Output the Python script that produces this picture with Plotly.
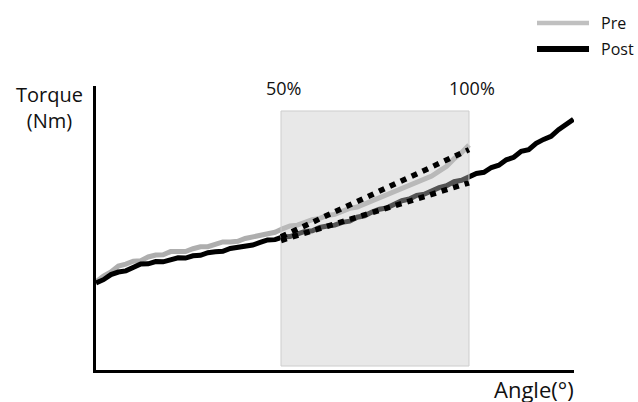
import plotly.graph_objects as go

# ---- data (angle in % of Pre range of motion, torque in arbitrary Nm units) ----
pre_angle = [0, 2, 4, 6, 8, 10, 12, 14, 16, 18, 20, 22, 24, 26, 28, 30, 32, 34, 36, 38,
             40, 42, 44, 46, 48, 50, 52, 54, 56, 58, 60, 62, 64, 66, 68, 70, 72, 74, 76, 78,
             80, 82, 84, 86, 88, 90, 92, 94, 96, 98, 100]
pre_torque = [31.0, 33.1, 34.5, 36.6, 37.3, 38.3, 38.5, 39.8, 40.5, 40.6, 41.7, 41.7, 41.7, 42.7, 43.4, 43.4, 44.3, 45.1, 45.1, 45.3,
              46.3, 46.9, 47.1, 48.1, 48.5, 49.7, 50.7, 51.0, 52.0, 52.9, 53.4, 54.4, 54.8, 55.9, 56.9, 57.4, 58.5, 59.3, 60.7, 61.7,
              62.7, 64.1, 64.8, 66.1, 67.4, 68.3, 70.0, 71.7, 74.4, 76.5, 79.2]

post_angle = [0, 2, 4, 6, 8, 10, 12, 14, 16, 18, 20, 22, 24, 26, 28, 30, 32, 34, 36, 38,
              40, 42, 44, 46, 48, 50, 52, 54, 56, 58, 60, 62, 64, 66, 68, 70, 72, 74, 76, 78,
              80, 82, 84, 86, 88, 90, 92, 94, 96, 98, 100, 102, 104, 106, 108, 110, 112, 114,
              116, 118, 120, 122, 124, 126, 128]
post_torque = [30.6, 31.8, 33.6, 34.5, 34.9, 36.3, 37.3, 37.4, 38.2, 38.1, 38.9, 39.5, 39.4, 40.2, 40.4, 41.3, 41.6, 41.8, 42.8, 43.2,
               44.0, 44.0, 44.9, 45.8, 45.9, 46.8, 47.0, 48.1, 48.8, 49.0, 50.2, 50.7, 51.0, 52.0, 52.4, 53.8, 54.3, 55.6, 56.6, 57.1,
               58.5, 59.6, 60.2, 61.5, 61.9, 63.1, 64.2, 64.9, 66.3, 66.8, 68.1, 69.2, 69.6, 71.3, 72.1, 74.0, 74.9, 77.0,
               77.6, 79.8, 81.2, 82.3, 84.6, 86.2, 88.3]

# analysed window: 50% .. 100% of Pre range of motion
window_angle = [49.6, 100]
window_torque = [1.4, 91.2]
window_labels = ["50%", "100%"]

# linear fits across the window
pre_fit_angle = [49.6, 100]
pre_fit_torque = [46.9, 77.6]
post_fit_angle = [49.6, 100]
post_fit_torque = [45.6, 65.9]

legend_names = ["Pre", "Post"]
legend_colors = ["#c0c0c0", "#000000"]

x_title = "Angle(°)"
y_title = "Torque<br>(Nm)"

FONT = "Open Sans, Lato, sans-serif"

fig = go.Figure()

fig.add_trace(go.Scatter(x=pre_angle, y=pre_torque, mode="lines",
                         line=dict(color="#aeaeae", width=5), name="Pre", showlegend=False))
fig.add_trace(go.Scatter(x=post_angle, y=post_torque, mode="lines",
                         line=dict(color="#000000", width=5), name="Post", showlegend=False))

# shaded window drawn over the curves (semi-transparent)
wx0, wx1 = window_angle
wy0, wy1 = window_torque
fig.add_trace(go.Scatter(x=[wx0, wx1, wx1, wx0, wx0], y=[wy0, wy0, wy1, wy1, wy0],
                         mode="lines", fill="toself", fillcolor="rgba(200,200,200,0.42)",
                         line=dict(color="#cdcdcd", width=1), hoverinfo="skip", showlegend=False))

fig.add_trace(go.Scatter(x=pre_fit_angle, y=pre_fit_torque, mode="lines",
                         line=dict(color="#000000", width=5.5, dash="6px,6px"), showlegend=False))
fig.add_trace(go.Scatter(x=post_fit_angle, y=post_fit_torque, mode="lines",
                         line=dict(color="#000000", width=5.5, dash="6px,6px"), showlegend=False))

annotations = []
for xv, lab in zip(window_angle, window_labels):
    annotations.append(dict(x=xv + 0.8, y=99.4, xref="x", yref="y", text=lab, showarrow=False,
                            xanchor="center", yanchor="middle",
                            font=dict(family=FONT, size=18, color="#111111")))

annotations.append(dict(x=-0.098, y=0.925, xref="paper", yref="paper", text=y_title,
                        showarrow=False, xanchor="center", yanchor="middle", align="center",
                        font=dict(family=FONT, size=20, color="#111111")))
annotations.append(dict(x=1.005, y=-0.066, xref="paper", yref="paper", text=x_title,
                        showarrow=False, xanchor="right", yanchor="middle",
                        font=dict(family=FONT, size=22, color="#111111")))

shapes = []
legend_y = [1.2218, 1.1303]
legend_w = [4.5, 6]
for name, col, ly, lw in zip(legend_names, legend_colors, legend_y, legend_w):
    shapes.append(dict(type="line", xref="paper", yref="paper", x0=0.9226, x1=1.0314,
                       y0=ly, y1=ly, line=dict(color=col, width=lw)))
    annotations.append(dict(x=1.0525, y=ly, xref="paper", yref="paper", text=name,
                            showarrow=False, xanchor="left", yanchor="middle",
                            font=dict(family=FONT, size=16, color="#111111")))

fig.update_layout(
    width=638, height=402,
    margin=dict(l=96, r=64, t=86, b=32),
    paper_bgcolor="white", plot_bgcolor="white",
    showlegend=False,
    annotations=annotations, shapes=shapes,
    xaxis=dict(range=[0, 128.15], showgrid=False, zeroline=False, showticklabels=False,
               ticks="", showline=True, linecolor="black", linewidth=3, fixedrange=True),
    yaxis=dict(range=[0, 100], showgrid=False, zeroline=False, showticklabels=False,
               ticks="", showline=True, linecolor="black", linewidth=3, fixedrange=True),
)

fig.write_html("out.html", config={"displayModeBar": False},
               post_script="document.body.style.margin='0';document.body.style.overflow='hidden';")
